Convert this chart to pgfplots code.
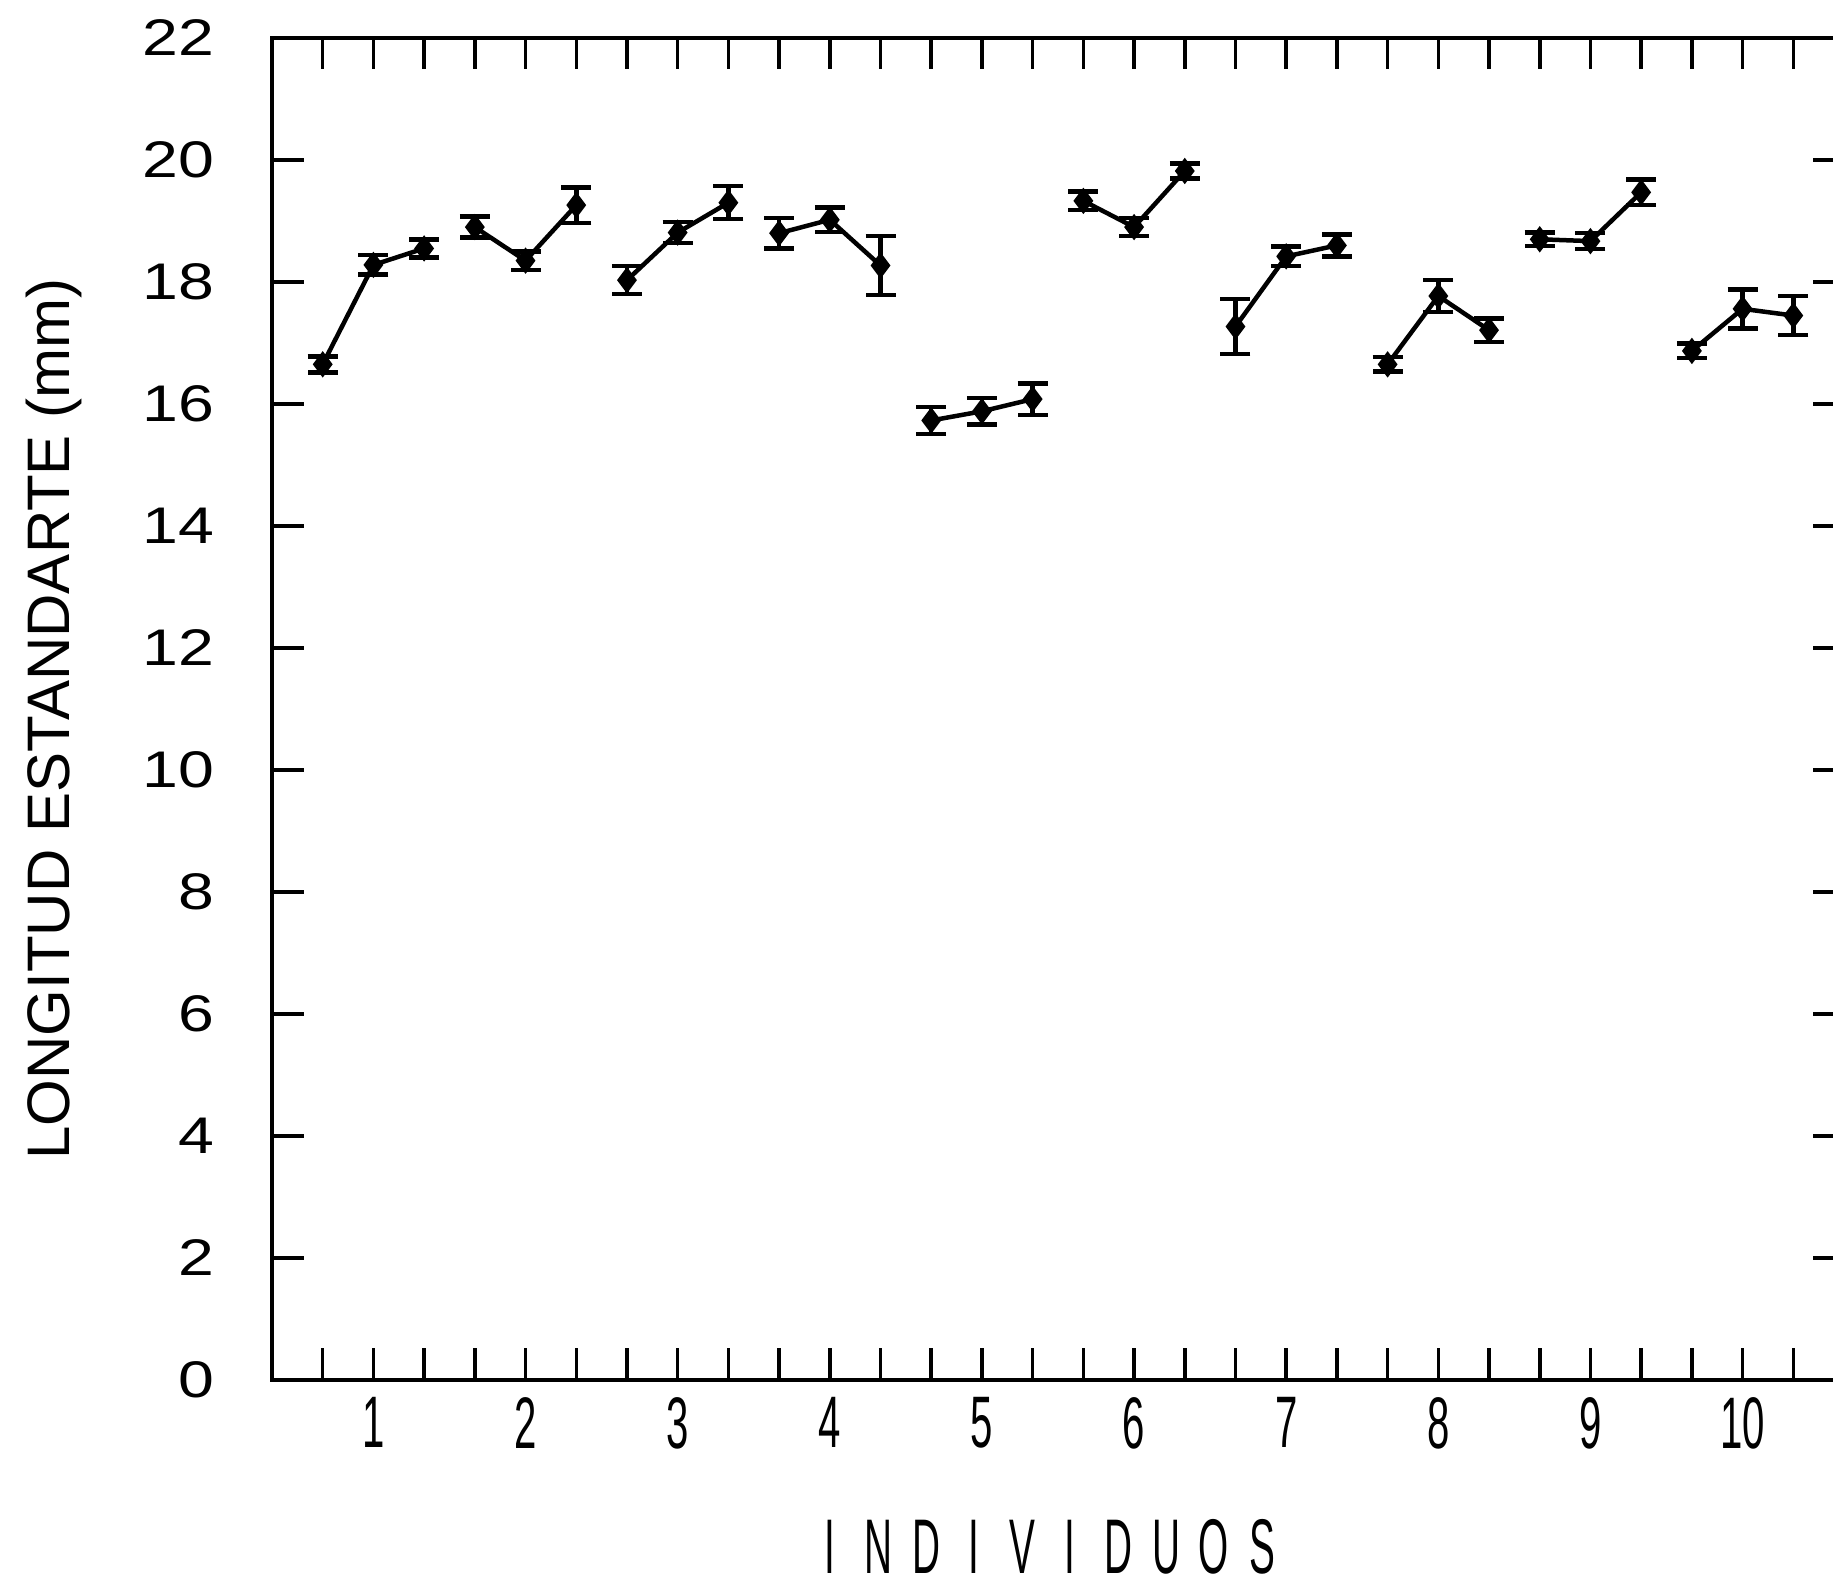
\documentclass[border=0pt]{standalone}
\usepackage{pgfplots}
\pgfplotsset{compat=1.18}
\usepackage{fontspec}
\setmainfont{Liberation Sans}
\newcommand\xl[1]{\scalebox{0.55}[1]{#1}}
\newcommand\ls[1]{\makebox[9.6pt]{\scalebox{0.5}[1]{#1}}}
\pgfplotsset{grp/.style={black, line width=0.9pt, mark=diamond*, mark size=1.9pt,
  mark options={solid, fill=black},
  error bars/.cd, y dir=both, y explicit,
  error bar style={line width=0.9pt},
  error mark options={rotate=90, mark size=3pt, line width=0.9pt}}}
\begin{document}
\begin{tikzpicture}
\begin{axis}[name=ax, scale only axis, width=314.4pt, height=268.4pt,
  xmin=0, xmax=31, ymin=0, ymax=22,
  ytick={0,2,...,22},
  xtick={1,...,30},
  xticklabels={,\xl{1},,,\xl{2},,,\xl{3},,,\xl{4},,,\xl{5},,,\xl{6},,,\xl{7},,,\xl{8},,,\xl{9},,,\xl{10},},
  /pgf/number format/assume math mode=true,
  yticklabel={\scalebox{1.25}[1]{\pgfmathprintnumber{\tick}}},
  yticklabel style={font=\fontsize{10.3}{12}\selectfont, xshift=-8pt},
  xticklabel style={font=\fontsize{14.6}{16}\selectfont},
  major tick length=6.3pt,
  tick style={line width=0.7pt, black},
  axis line style={line width=0.8pt},
  ylabel={LONGITUD ESTANDARTE (mm)},
  ylabel style={at={(axis description cs:-0.1387,0.4925)}, anchor=center, font=\fontsize{12}{14}\selectfont},
  xlabel={\ls I\ls N\ls D\ls I\ls V\ls I\ls D\ls U\ls O\ls S},
  xlabel style={at={(axis description cs:0.4924,-0.124)}, anchor=center, inner sep=0pt, font=\fontsize{15.5}{17}\selectfont},
]
\addplot[grp] coordinates {(1,16.65) +- (0,0.13) (2,18.28) +- (0,0.16) (3,18.55) +- (0,0.15)};
\addplot[grp] coordinates {(4,18.90) +- (0,0.17) (5,18.35) +- (0,0.15) (6,19.26) +- (0,0.29)};
\addplot[grp] coordinates {(7,18.03) +- (0,0.23) (8,18.81) +- (0,0.17) (9,19.30) +- (0,0.27)};
\addplot[grp] coordinates {(10,18.80) +- (0,0.25) (11,19.02) +- (0,0.20) (12,18.27) +- (0,0.48)};
\addplot[grp] coordinates {(13,15.73) +- (0,0.22) (14,15.88) +- (0,0.22) (15,16.08) +- (0,0.26)};
\addplot[grp] coordinates {(16,19.33) +- (0,0.15) (17,18.90) +- (0,0.15) (18,19.82) +- (0,0.12)};
\addplot[grp] coordinates {(19,17.27) +- (0,0.45) (20,18.42) +- (0,0.16) (21,18.60) +- (0,0.18)};
\addplot[grp] coordinates {(22,16.65) +- (0,0.12) (23,17.77) +- (0,0.26) (24,17.21) +- (0,0.19)};
\addplot[grp] coordinates {(25,18.70) +- (0,0.11) (26,18.67) +- (0,0.13) (27,19.47) +- (0,0.21)};
\addplot[grp] coordinates {(28,16.87) +- (0,0.12) (29,17.56) +- (0,0.32) (30,17.45) +- (0,0.32)};
\end{axis}
\pgfresetboundingbox
\path[use as bounding box] ([shift={(-54.4pt,-42pt)}]ax.south west) rectangle ([shift={(312.2pt,7.6pt)}]ax.north west);
\end{tikzpicture}
\end{document}
